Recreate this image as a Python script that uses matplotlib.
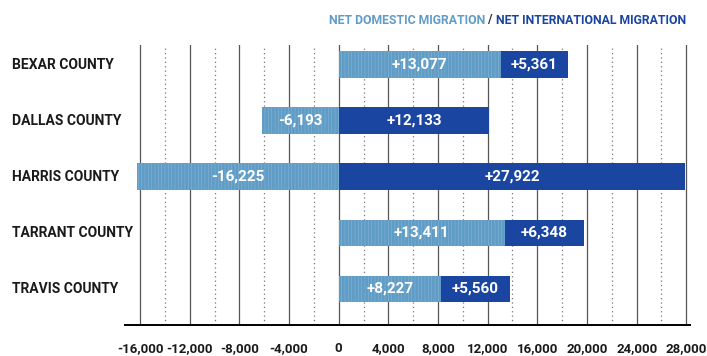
import matplotlib
matplotlib.use('Agg')
import matplotlib.pyplot as plt

# County migration figures
counties = ['BEXAR COUNTY', 'DALLAS COUNTY', 'HARRIS COUNTY', 'TARRANT COUNTY', 'TRAVIS COUNTY']
domestic = [13077, -6193, -16225, 13411, 8227]
international = [5361, 12133, 27922, 6348, 5560]
xticks = list(range(-16000, 28001, 4000))

dom_color = '#5f9cc6'
intl_color = '#1a45a0'

plt.rcParams['font.family'] = ['Roboto', 'DejaVu Sans']
plt.rcParams['hatch.linewidth'] = 0.5

fig = plt.figure(figsize=(7.07, 3.56), dpi=100)
ax = fig.add_axes([0.177, 0.087, 0.799, 0.787])

# grid: solid every 4000, dotted in between
for x in xticks:
    ax.axvline(x, color='#555555', lw=0.9, zorder=0)
    if x < 28000:
        ax.axvline(x + 2000, color='#777777', lw=0.9, ls=(0, (1, 2.5)), zorder=0)

ypos = list(range(len(counties)))
h = 0.48
ax.barh(ypos, domestic, height=h, color=dom_color, edgecolor='#80b0d3',
        hatch='|||||', linewidth=0, zorder=2)
intl_left = [max(d, 0) for d in domestic]
ax.barh(ypos, international, left=intl_left, height=h, color=intl_color,
        linewidth=0, zorder=2)

# value labels inside each segment
for y, d, i, l in zip(ypos, domestic, international, intl_left):
    ax.text(d / 2, y, f'{d:+,}', color='white', fontsize=11, fontweight='bold',
            ha='center', va='center', zorder=3)
    ax.text(l + i / 2, y, f'{i:+,}', color='white', fontsize=11, fontweight='bold',
            ha='center', va='center', zorder=3)

ax.set_xlim(-17200, 28300)
ax.set_ylim(4.643, -0.357)
ax.set_xticks(xticks)
ax.set_xticklabels([f'{t:,}' for t in xticks], fontsize=9.5, fontweight='bold',
                   color='#1a1a1a')
ax.tick_params(axis='x', length=0, pad=12)
ax.set_yticks([])
for s in ['top', 'right', 'left']:
    ax.spines[s].set_visible(False)
ax.spines['bottom'].set_linewidth(1.4)

# county names on the left
for y, name in zip(ypos, counties):
    fig.text(12 / 707, ax.transData.transform((0, y))[1] / fig.bbox.height, name,
             fontsize=10, fontweight='bold', color='#1a1a1a', ha='left', va='center')

# two-colour legend title, right edge at x = 686 px
fig.canvas.draw()
r = fig.canvas.get_renderer()
parts = [('NET INTERNATIONAL MIGRATION', intl_color), (' / ', '#333333'),
         ('NET DOMESTIC MIGRATION', dom_color)]
x0 = 686 / 707
for txt, c in parts:
    t = fig.text(x0, 1 - 20 / 356, txt, color=c, fontsize=8.8, fontweight='bold',
                 ha='right', va='center')
    x0 -= t.get_window_extent(renderer=r).width / fig.bbox.width

fig.savefig('out.png', dpi=100)
